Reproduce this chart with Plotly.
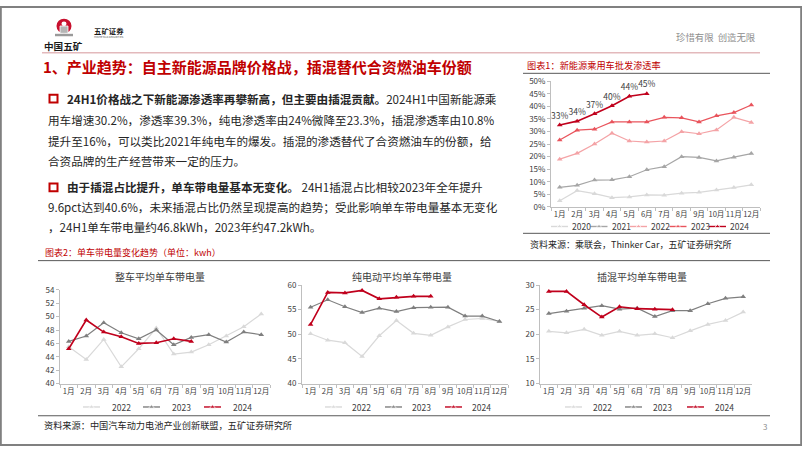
import plotly.graph_objects as go

W, H = 802, 451
def X(px): return px / W
def Y(py): return 1 - py / H

FONT = "Noto Sans CJK SC"
months = ["1月", "2月", "3月", "4月", "5月", "6月", "7月", "8月", "9月", "10月", "11月", "12月"]

# ---- Chart 1: NEV passenger-car wholesale penetration (%)
pen_years = ["2020", "2021", "2022", "2023", "2024"]
pen_2020 = [2.5, 6.5, 5.3, 3.7, 4.0, 4.8, 4.7, 5.5, 5.8, 6.7, 7.7, 8.8]
pen_2021 = [7.8, 8.6, 10.7, 10.8, 12.0, 14.8, 16.0, 20.0, 19.7, 18.3, 19.8, 21.2]
pen_2022 = [19.0, 21.3, 25.0, 29.3, 26.2, 25.8, 26.2, 29.9, 29.1, 30.6, 35.6, 33.6]
pen_2023 = [26.6, 30.5, 30.9, 33.8, 33.8, 33.8, 35.6, 35.4, 33.8, 36.2, 37.5, 40.5]
pen_2024 = [32.6, 34.1, 37.0, 40.2, 44.0, 45.0]
pen_ticks = [0, 5, 10, 15, 20, 25, 30, 35, 40, 45, 50]

# ---- Chart 2: per-vehicle battery capacity (kWh)
cap_years = ["2022", "2023", "2024"]
all_2022 = [45.5, 43.6, 46.6, 42.5, 45.2, 48.3, 44.4, 44.7, 45.8, 47.1, 48.5, 50.4]
all_2023 = [46.3, 47.1, 49.1, 47.6, 46.7, 48.0, 45.8, 46.9, 47.3, 46.2, 47.7, 47.3]
all_2024 = [45.2, 49.5, 47.7, 47.0, 46.0, 46.1, 46.7, 46.3]
bev_2022 = [50.1, 48.8, 48.3, 45.5, 49.7, 52.8, 50.2, 49.8, 51.5, 53.0, 53.2, 52.6]
bev_2023 = [55.5, 57.0, 55.6, 54.4, 55.3, 54.6, 55.4, 55.5, 55.5, 53.7, 53.7, 52.6]
bev_2024 = [52.0, 58.5, 58.4, 58.9, 57.2, 57.5, 57.7, 57.7]
phev_2022 = [20.6, 20.3, 21.0, 19.8, 20.6, 19.8, 20.1, 19.3, 20.7, 22.0, 22.8, 24.5]
phev_2023 = [24.2, 24.7, 25.3, 25.8, 25.1, 25.3, 23.6, 24.8, 24.8, 26.2, 27.3, 27.6]
phev_2024 = [28.7, 28.7, 26.0, 23.5, 25.6, 25.2, 25.1, 25.0]

pen_colors = ["#d9d9d9", "#a6a6a6", "#f4a3a6", "#e9545c", "#c0001c"]
cap_colors = ["#d9d9d9", "#7f7f7f", "#c0001c"]

fig = go.Figure()

# top-right chart
for name, vals, col in zip(pen_years, [pen_2020, pen_2021, pen_2022, pen_2023, pen_2024], pen_colors):
    is24 = name == "2024"
    fig.add_trace(go.Scatter(
        x=months[:len(vals)], y=vals, xaxis="x", yaxis="y",
        mode="lines+markers+text" if is24 else "lines+markers",
        text=[f"{v:.0f}%" for v in vals] if is24 else None,
        textposition="top center", textfont=dict(size=8.5, color="#404040", family=FONT),
        line=dict(color=col, width=1.6 if is24 else 1.2),
        marker=dict(symbol="triangle-up", size=5, color=col),
        hoverinfo="skip", cliponaxis=False))

small = [("x2", "y2", [all_2022, all_2023, all_2024]),
         ("x3", "y3", [bev_2022, bev_2023, bev_2024]),
         ("x4", "y4", [phev_2022, phev_2023, phev_2024])]
for xa, ya, series in small:
    for name, vals, col in zip(cap_years, series, cap_colors):
        is24 = name == "2024"
        fig.add_trace(go.Scatter(
            x=months[:len(vals)], y=vals, xaxis=xa, yaxis=ya, mode="lines+markers",
            line=dict(color=col, width=1.6 if is24 else 1.2),
            marker=dict(symbol="triangle-up", size=5, color=col),
            hoverinfo="skip", cliponaxis=False))

# manual legend symbols on an overlay pixel axis
def legend(starts, ypx, names, colors, length, text_off):
    for x0, nm, col in zip(starts, names, colors):
        fig.add_trace(go.Scatter(
            x=[x0, x0 + length / 2, x0 + length], y=[ypx, ypx, ypx], xaxis="x5", yaxis="y5",
            mode="lines+markers", line=dict(color=col, width=1.4),
            marker=dict(symbol="triangle-up", size=[0, 5, 0], color=col), hoverinfo="skip"))
        fig.add_annotation(x=X(x0 + text_off), y=Y(ypx), xref="paper", yref="paper", text=nm,
                           showarrow=False, xanchor="left", yanchor="middle",
                           font=dict(size=8.5, color="#404040", family=FONT))

legend([551, 590.5, 630, 669.5, 709], 226, pen_years, pen_colors, 17, 19)
legend([83, 143, 204], 411, cap_years, cap_colors, 17, 27)
legend([325, 385, 445], 411, cap_years, cap_colors, 17, 25)
legend([565, 625, 687], 411, cap_years, cap_colors, 17, 26)

tickfont = dict(size=8, color="#404040", family=FONT)
mfont = dict(size=7.6, color="#404040", family=FONT)
def xax(d0, d1, anchor):
    return dict(domain=[X(d0), X(d1)], anchor=anchor, type="category", categoryorder="array",
                categoryarray=months, range=[-0.5, 11.5], showgrid=False, zeroline=False,
                showline=True, linecolor="#bfbfbf", linewidth=1, ticks="outside", tickson="boundaries",
                ticklen=3, tickcolor="#bfbfbf", tickfont=mfont, tickangle=0, fixedrange=True)
def yax(top, bot, anchor, rng, dtick):
    return dict(domain=[Y(bot), Y(top)], anchor=anchor, range=rng, dtick=dtick, tick0=rng[0],
                showgrid=False, zeroline=False, showline=True, linecolor="#bfbfbf", linewidth=1,
                ticks="outside", ticklen=3, tickcolor="#bfbfbf", tickfont=tickfont, fixedrange=True)

ytop = yax(77, 206, "x", [0, 50], 5)
ytop.update(tickmode="array", tickvals=pen_ticks, ticktext=[f"{v}%" for v in pen_ticks])

fig.update_layout(
    width=W, height=H, margin=dict(l=0, r=0, t=0, b=0), paper_bgcolor="white",
    plot_bgcolor="rgba(0,0,0,0)", showlegend=False, font=dict(family=FONT),
    xaxis=xax(551, 760, "y"), yaxis=ytop,
    xaxis2=xax(60, 270, "y2"), yaxis2=yax(291, 387, "x2", [40, 54], 2),
    xaxis3=xax(302, 508, "y3"), yaxis3=yax(286, 387, "x3", [40, 60], 5),
    xaxis4=xax(540, 752, "y4"), yaxis4=yax(286, 387, "x4", [10, 30], 5),
    xaxis5=dict(domain=[0, 1], anchor="y5", range=[0, W], visible=False, fixedrange=True),
    yaxis5=dict(domain=[0, 1], anchor="x5", range=[H, 0], visible=False, fixedrange=True),
)

def txt(x, y, s, size, color="#262626", anchor="left", bold=False):
    fig.add_annotation(x=X(x), y=Y(y), xref="paper", yref="paper", text=f"<b>{s}</b>" if bold else s,
                       showarrow=False, xanchor=anchor, yanchor="middle", borderpad=0,
                       font=dict(size=size, color=color, family=FONT))

def hline(x0, x1, y, color, width):
    fig.add_shape(type="line", xref="paper", yref="paper", x0=X(x0), x1=X(x1), y0=Y(y), y1=Y(y),
                  line=dict(color=color, width=width))

# border
fig.add_shape(type="rect", xref="paper", yref="paper", x0=0.001, x1=0.999, y0=0.002, y1=0.998,
              line=dict(color="#808080", width=2))

# logo
fig.add_shape(type="circle", xref="paper", yref="paper", x0=X(56.5), x1=X(71.5), y0=Y(28), y1=Y(13),
              fillcolor="#c8102e", line=dict(width=0))
fig.add_shape(type="rect", xref="paper", yref="paper", x0=X(60), x1=X(68), y0=Y(28), y1=Y(20.5),
              fillcolor="#b5b5b5", line=dict(color="white", width=0.8))
fig.add_shape(type="circle", xref="paper", yref="paper", x0=X(61.5), x1=X(66.5), y0=Y(20.5), y1=Y(16),
              fillcolor="white", line=dict(width=0))
fig.add_shape(type="rect", xref="paper", yref="paper", x0=X(55), x1=X(73), y0=Y(31), y1=Y(28.5),
              fillcolor="#9a9a9a", line=dict(width=0))
txt(43, 41, "中国五矿", 9.6, "#1a1a1a", bold=True)
txt(93, 25.5, "五矿证券", 7.4, "#1a1a1a", bold=True)
txt(93, 32, "MINMETALS SECURITIES", 2.6, "#555555")
txt(757, 32, "珍惜有限  创造无限", 9.4, "#8c8c8c", anchor="right")
hline(42, 760, 48, "#e3b9bc", 1.5)

# title
txt(42, 62, "1、产业趋势：自主新能源品牌价格战，插混替代合资燃油车份额", 15.0, "#c00000", bold=True)

# body text
for yb in (95, 186):
    fig.add_shape(type="rect", xref="paper", yref="paper", x0=X(49.5), x1=X(57.5), y0=Y(yb + 4), y1=Y(yb - 4),
                  fillcolor="white", line=dict(color="#c00000", width=2))
body = 11.6
txt(66, 95, "<b>24H1价格战之下新能源渗透率再攀新高，但主要由插混贡献。</b>2024H1中国新能源乘", body)
txt(47, 117, "用车增速30.2%，渗透率39.3%，纯电渗透率由24%微降至23.3%，插混渗透率由10.8%", body)
txt(47, 138, "提升至16%，可以类比2021年纯电车的爆发。插混的渗透替代了合资燃油车的份额，给", body)
txt(47, 159, "合资品牌的生产经营带来一定的压力。", body)
txt(66, 186, "<b>由于插混占比提升，单车带电量基本无变化。</b> 24H1插混占比相较2023年全年提升", body)
txt(47, 206, "9.6pct达到40.6%，未来插混占比仍然呈现提高的趋势；受此影响单车带电量基本无变化", body)
txt(47, 227, "，24H1单车带电量约46.8kWh，2023年约47.2kWh。", body)

# chart 1 frame texts
txt(526, 60, "图表1：新能源乘用车批发渗透率", 9.2, "#c00000")
hline(523, 770, 69, "#595959", 1)
hline(523, 770, 233, "#595959", 1)
txt(529, 244, "资料来源：乘联会，Thinker Car，五矿证券研究所", 9.0, "#262626")

# chart 2 frame texts
txt(44, 253, "图表2：单车带电量变化趋势（单位：kwh）", 9.0, "#c00000")
hline(38, 770, 261, "#595959", 1)
txt(160, 277, "整车平均单车带电量", 10, "#404040", anchor="center")
txt(402, 277, "纯电动平均单车带电量", 10, "#404040", anchor="center")
txt(642, 277, "插混平均单车带电量", 10, "#404040", anchor="center")
hline(38, 770, 420, "#595959", 1)
txt(43, 429, "资料来源：中国汽车动力电池产业创新联盟，五矿证券研究所", 9.2, "#262626")
txt(768, 431, "3", 8, "#8c8c8c", anchor="right")

fig.write_html("out.html", config={"displayModeBar": False},
               post_script="document.body.style.margin='0';document.body.style.padding='0';"
                           "document.documentElement.style.overflow='hidden';")
